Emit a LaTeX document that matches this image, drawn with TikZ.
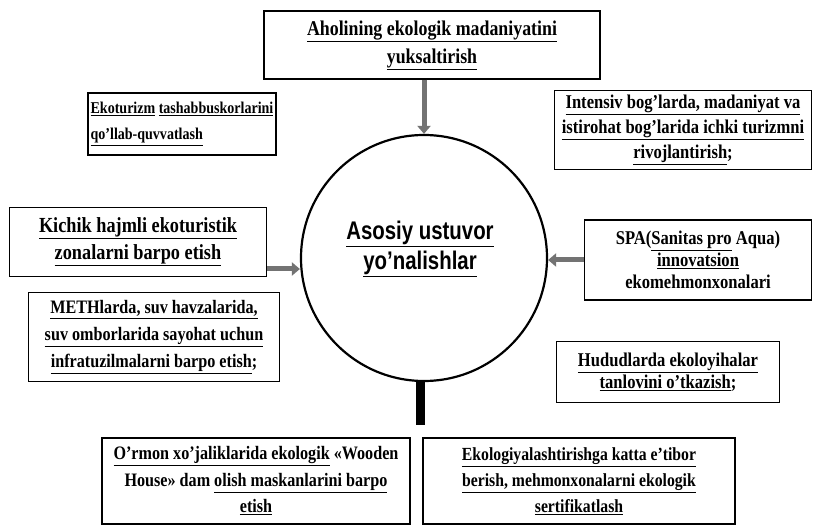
\documentclass[tikz,border=0pt]{standalone}
\usepackage{fontspec}
\setmainfont{Liberation Serif}[FakeStretch=0.85]
\newfontfamily\circfont{Liberation Sans}[FakeStretch=0.8]
\usetikzlibrary{arrows.meta}
\newcommand{\uline}[1]{\underline{#1}}

\begin{document}
\begin{tikzpicture}[x=1pt,y=-1pt,
  box/.style={draw,line width=1.4pt,inner sep=2pt,align=center},
  garrow/.style={draw=black!55,line width=5pt,-{Triangle[length=8pt,width=13pt]}},
  bar/.style={line width=9pt}]
\useasboundingbox (0,0) rectangle (817,526) ;
\node[box,minimum width=336pt,minimum height=68pt,font=\bfseries\fontsize{21}{28}\selectfont] (b1) at (432,45) {\uline{Aholining ekologik madaniyatini}\\\uline{yuksaltirish}} ;
\node[box,minimum width=188pt,minimum height=62pt,align=left,font=\bfseries\fontsize{16.5}{26}\selectfont] (b2) at (182,124) {\uline{Ekoturizm} \uline{tashabbuskorlarini}\\\uline{qo’llab-quvvatlash}} ;
\node[box,minimum width=257pt,minimum height=79pt,font=\bfseries\fontsize{19.5}{25}\selectfont] (b3) at (683,130) {\uline{Intensiv bog’larda, madaniyat va}\\\uline{istirohat bog’larida ichki turizmni}\\\uline{rivojlantirish};} ;
\node[box,minimum width=257pt,minimum height=69pt,font=\bfseries\fontsize{21.5}{27}\selectfont] (b4) at (138,242) {\uline{Kichik hajmli ekoturistik}\\\uline{zonalarni barpo etish}} ;
\node[box,minimum width=227pt,minimum height=80pt,font=\bfseries\fontsize{19.5}{22}\selectfont] (b5) at (698,260) {SPA(\uline{Sanitas pro} Aqua)\\\uline{innovatsion}\\ekomehmonxonalari} ;
\node[box,minimum width=251pt,minimum height=89pt,font=\bfseries\fontsize{19}{27}\selectfont] (b6) at (154,337) {\uline{METHlarda, suv havzalarida,}\\\uline{suv omborlarida sayohat uchun}\\\uline{infratuzilmalarni barpo etish};} ;
\node[box,minimum width=223pt,minimum height=61pt,font=\bfseries\fontsize{19.5}{22}\selectfont] (b7) at (668,372) {\uline{Hududlarda ekoloyihalar}\\\uline{tanlovini o’tkazish};} ;
\node[box,minimum width=308pt,minimum height=86pt,font=\bfseries\fontsize{19}{26.5}\selectfont] (b8) at (256,481) {\uline{O’rmon xo’jaliklarida ekologik} «Wooden\\House» dam \uline{olish maskanlarini barpo}\\\uline{etish}} ;
\node[box,minimum width=312pt,minimum height=86pt,font=\bfseries\fontsize{18.5}{26}\selectfont] (b9) at (579,481) {\uline{Ekologiyalashtirishga katta e’tibor}\\\uline{berish, mehmonxonalarni ekologik}\\\uline{sertifikatlash}} ;
\node[circle,draw,line width=2.2pt,minimum size=246pt,inner sep=0pt] (c) at (424,258) {} ;
\node[font=\circfont\bfseries\fontsize{25.5}{30}\selectfont,align=center] (t) at (420,249) {\uline{Asosiy ustuvor}\\\uline{yo’nalishlar}} ;
\coordinate (bt) at (420,425) ;
\draw[garrow] (c |- b1.south) to (c.north) ;
\draw[garrow] ([yshift=-27pt]b4.east) to ([yshift=-27pt]b4.east -| c.west) ;
\draw[garrow] (b5.west) to (b5.west -| c.east) ;
\draw[bar] (bt) to (bt |- c.south) ;
\end{tikzpicture}
\end{document}
